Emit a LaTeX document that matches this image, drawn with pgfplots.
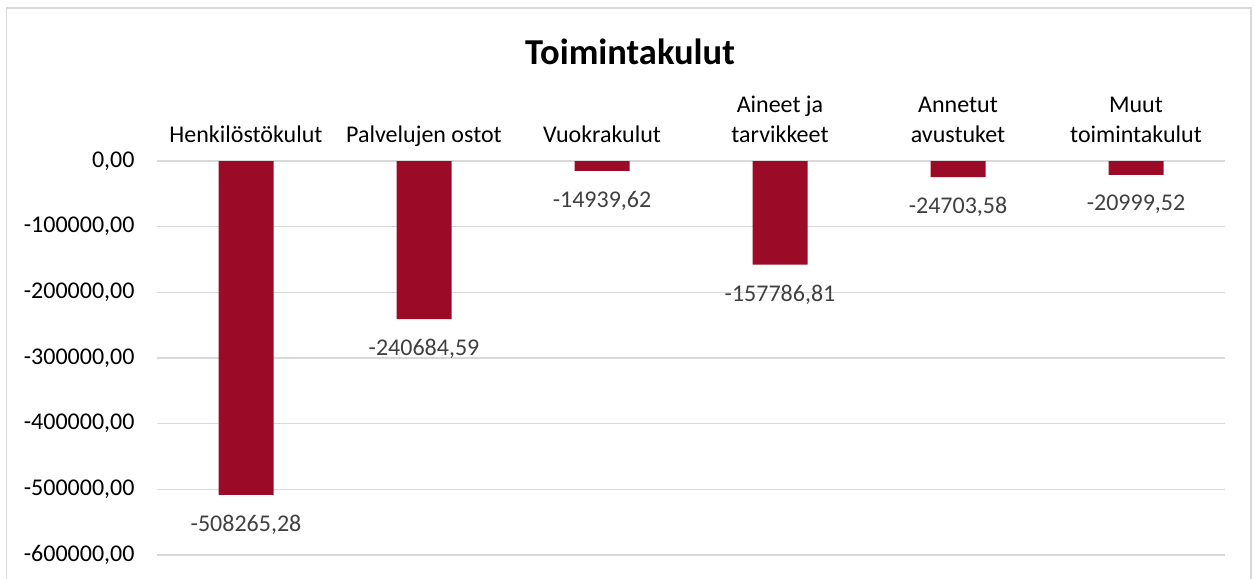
\documentclass[border=0pt]{standalone}
\usepackage{pgfplots}
\pgfplotsset{compat=1.18}
\usepackage{fontspec}
\setmainfont{Carlito}
\definecolor{barred}{RGB}{155,10,38}
\definecolor{gridgray}{RGB}{217,217,217}
\definecolor{lblgray}{RGB}{64,64,64}
\begin{document}
\begin{tikzpicture}
\useasboundingbox (0,0) rectangle (1254bp,579bp);
\draw[gridgray, line width=1.5bp] (6.5bp,-2bp) -- (6.5bp,571bp) -- (1251bp,571bp) -- (1251bp,-2bp);
\node[anchor=base, font=\fontsize{36.5bp}{42bp}\selectfont\bfseries] at (630bp,514bp) {Toimintakulut};
\begin{axis}[
  at={(157bp,24bp)}, anchor=south west,
  scale only axis, width=1068bp, height=394bp,
  xmin=-0.5, xmax=5.5, ymin=-600000, ymax=0,
  ybar, bar width=55bp, bar shift=0pt,
  axis line style={draw=none},
  tick style={draw=none},
  ymajorgrids, grid style={gridgray, line width=1.2bp},
  ytick={-600000,-500000,-400000,-300000,-200000,-100000,0},
  scaled y ticks=false,
  yticklabel style={font=\fontsize{24bp}{29bp}\selectfont, xshift=-19bp,
    /pgf/number format/.cd, fixed, fixed zerofill, precision=2, use comma, 1000 sep={}, assume math mode=true},
  xtick={0,1,2,3,4,5},
  xticklabels={Henkilöstökulut, Palvelujen ostot, Vuokrakulut, {Aineet ja\\tarvikkeet}, {Annetut\\avustuket}, {Muut\\toimintakulut}},
  xticklabel pos=upper,
  xticklabel style={font=\fontsize{24bp}{30bp}\selectfont, align=center, anchor=south, inner sep=0pt, text depth=0pt, yshift=14bp},
  point meta=explicit symbolic,
  nodes near coords,
  nodes near coords style={font=\fontsize{24bp}{29bp}\selectfont, text=lblgray, anchor=north, inner sep=0pt, yshift=-20bp},
  clip=false,
]
\addplot[fill=barred, draw=none] coordinates {
  (0,-508265.28) [-508265,28]
  (1,-240684.59) [-240684,59]
  (2,-14939.62) [-14939,62]
  (3,-157786.81) [-157786,81]
  (4,-24703.58) [-24703,58]
  (5,-20999.52) [-20999,52]
};
\end{axis}
\end{tikzpicture}
\end{document}
